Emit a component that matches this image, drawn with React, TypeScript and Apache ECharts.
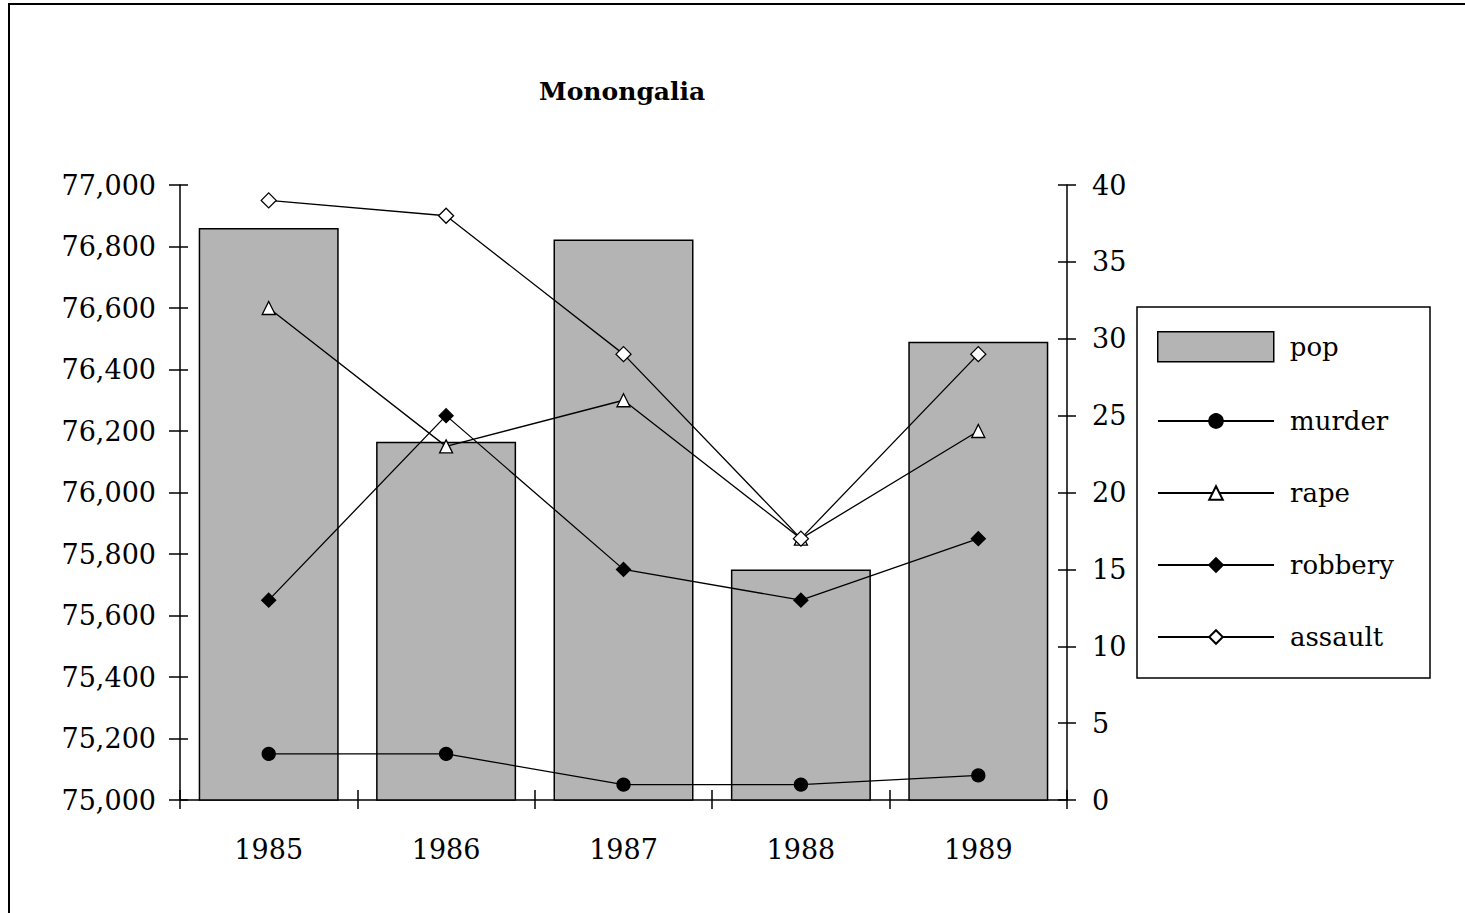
import React, { useEffect, useRef } from "react";
import * as echarts from "echarts";

const years = ["1985", "1986", "1987", "1988", "1989"];
const pop = [76860, 76165, 76823, 75750, 76490];
const murder = [3, 3, 1, 1, 1.6];
const rape = [32, 23, 26, 17, 24];
const robbery = [13, 25, 15, 13, 17];
const assault = [39, 38, 29, 17, 29];

const FONT = "DejaVu Serif";

export default function App() {
  const ref = useRef<HTMLDivElement>(null);
  useEffect(() => {
    if (!ref.current) return;
    const chart = echarts.init(ref.current, null, { renderer: "svg" });
    const axisLineStyle = { color: "#000", width: 1.5 };
    const labelStyle = { color: "#000", fontSize: 27, fontFamily: FONT };
    const lineSeries = (name: string, data: number[], symbol: string, size: number, fill: string) => ({
      name,
      type: "line",
      data,
      yAxisIndex: 1,
      symbol,
      symbolSize: size,
      lineStyle: { color: "#000", width: 1.3 },
      itemStyle: { color: fill, borderColor: "#000", borderWidth: 1.3 },
      z: 3,
    });
    chart.setOption({
      animation: false,
      backgroundColor: "#fff",
      title: {
        text: "Monongalia",
        left: 539,
        top: 79,
        padding: 0,
        textStyle: { fontFamily: FONT, fontSize: 25, fontWeight: "bold", color: "#000" },
      },
      grid: { left: 180, right: 398, top: 185, bottom: 113, containLabel: false },
      legend: [
        {
          data: ["pop"],
          orient: "vertical",
          left: 1157,
          top: 331,
          padding: 0,
          itemWidth: 116,
          itemHeight: 30,
          icon: "rect",
          itemStyle: { borderColor: "#000", borderWidth: 1.5 },
          textStyle: { fontFamily: FONT, fontSize: 26, color: "#000", lineHeight: 30, padding: [0, 0, 0, 11] },
        },
        {
          data: ["murder", "rape", "robbery", "assault"],
          orient: "vertical",
          left: 1157,
          top: 408,
          padding: 0,
          itemWidth: 116,
          itemHeight: 17,
          itemGap: 46,
          textStyle: { fontFamily: FONT, fontSize: 26, color: "#000", lineHeight: 17, padding: [0, 0, 0, 11] },
        },
      ],
      xAxis: [
        {
          type: "category",
          data: years,
          boundaryGap: true,
          axisLine: { show: true, lineStyle: axisLineStyle },
          axisTick: { show: true, length: 9, lineStyle: axisLineStyle },
          axisLabel: { ...labelStyle, margin: 36 },
          splitLine: { show: false },
        },
        {
          type: "category",
          data: years,
          position: "bottom",
          boundaryGap: true,
          axisLine: { show: false },
          axisTick: { show: true, inside: true, length: 10, lineStyle: axisLineStyle },
          axisLabel: { show: false },
          splitLine: { show: false },
        },
      ],
      yAxis: [
        {
          type: "value",
          position: "left",
          min: 75000,
          max: 77000,
          interval: 200,
          axisLine: { show: true, lineStyle: axisLineStyle },
          axisTick: { show: true, length: 11, lineStyle: axisLineStyle },
          axisLabel: {
            ...labelStyle,
            margin: 24,
            formatter: (v: number) => v.toLocaleString("en-US"),
          },
          splitLine: { show: false },
        },
        {
          type: "value",
          position: "right",
          min: 0,
          max: 40,
          interval: 5,
          axisLine: { show: true, lineStyle: axisLineStyle },
          axisTick: { show: true, length: 9, lineStyle: axisLineStyle },
          axisLabel: { ...labelStyle, margin: 25 },
          splitLine: { show: false },
        },
        {
          type: "value",
          position: "left",
          min: 75000,
          max: 77000,
          interval: 200,
          axisLine: { show: false },
          axisTick: { show: true, inside: true, length: 8, lineStyle: axisLineStyle },
          axisLabel: { show: false },
          splitLine: { show: false },
        },
        {
          type: "value",
          position: "right",
          min: 0,
          max: 40,
          interval: 5,
          axisLine: { show: false },
          axisTick: { show: true, inside: true, length: 9, lineStyle: axisLineStyle },
          axisLabel: { show: false },
          splitLine: { show: false },
        },
      ],
      series: [
        {
          name: "pop",
          type: "bar",
          data: pop,
          yAxisIndex: 0,
          barWidth: 140,
          itemStyle: { color: "#b4b4b4", borderColor: "#000", borderWidth: 1.5 },
          z: 2,
        },
        lineSeries("murder", murder, "circle", 13, "#000"),
        lineSeries("rape", rape, "triangle", 13, "#fff"),
        lineSeries("robbery", robbery, "diamond", 14, "#000"),
        lineSeries("assault", assault, "diamond", 15, "#fff"),
      ],
      graphic: [
        {
          type: "rect",
          shape: { x: 1137, y: 307, width: 293, height: 371 },
          style: { fill: "none", stroke: "#000", lineWidth: 1.5 },
          silent: true,
        },
        {
          type: "line",
          shape: { x1: 8, y1: 4, x2: 1465, y2: 4 },
          style: { stroke: "#000", lineWidth: 2 },
          silent: true,
        },
        {
          type: "line",
          shape: { x1: 9, y1: 4, x2: 9, y2: 913 },
          style: { stroke: "#000", lineWidth: 2 },
          silent: true,
        },
      ],
    });
    return () => chart.dispose();
  }, []);
  return (
    <div
      ref={ref}
      style={{ position: "absolute", left: 0, top: 0, width: 1465, height: 913, background: "#fff" }}
    />
  );
}
